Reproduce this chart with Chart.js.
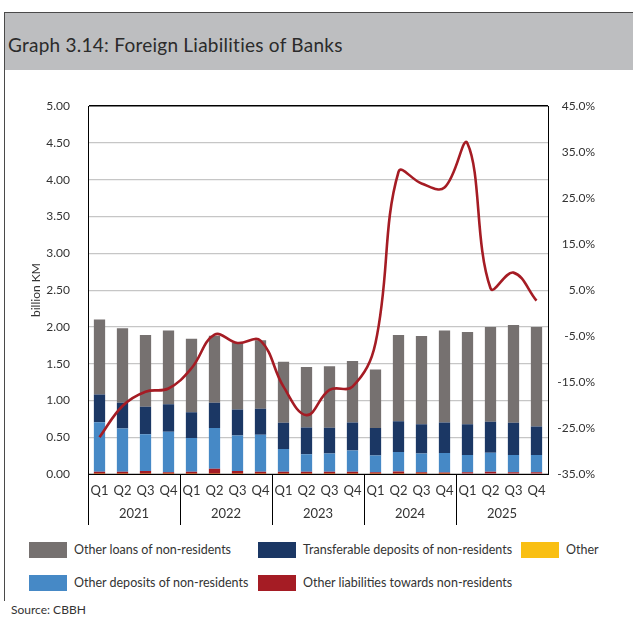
<!DOCTYPE html>
<html>
<head>
<meta charset="utf-8">
<script src="https://cdn.jsdelivr.net/npm/chart.js@4/dist/chart.umd.min.js"></script>
<style>
  body { margin: 0; background: #fff; font-family: Lato, "Open Sans", sans-serif; color: #333; }
  #page { position: relative; width: 633px; height: 617px; overflow: hidden; }
  #frame { position: absolute; left: 4px; top: 12px; width: 640px; height: 588px;
           border-left: 1px solid #4a4a4a; border-top: 1px solid #4a4a4a; }
  #banner { position: absolute; left: 5px; top: 13px; width: 640px; height: 57px; background: #bdbec0; }
  #title { position: absolute; left: 8px; top: 33px; font-size: 19px; letter-spacing: 0.25px; color: #2b2b2b; white-space: nowrap; }
  #chartBox { position: absolute; left: 0; top: 81px; }
  .swatch { position: absolute; width: 38px; height: 16px; }
  .label { position: absolute; font-size: 12.5px; line-height: 16px; white-space: nowrap; color: #333; }
  #source { position: absolute; left: 11px; top: 602px; font-size: 12px; color: #333; }
</style>
</head>
<body>
<div id="page">
  <div id="frame"></div>
  <div id="banner"></div>
  <div id="title">Graph 3.14: Foreign Liabilities of Banks</div>
  <div id="chartBox"><canvas id="chart" width="633" height="449"></canvas></div>
  <div id="legend"></div>
  <div id="source">Source: CBBH</div>
</div>
<script>
// quarters and years on the two-level x axis
const quarters = ['Q1', 'Q2', 'Q3', 'Q4', 'Q1', 'Q2', 'Q3', 'Q4', 'Q1', 'Q2', 'Q3', 'Q4',
                  'Q1', 'Q2', 'Q3', 'Q4', 'Q1', 'Q2', 'Q3', 'Q4'];
const years = ['2021', '2022', '2023', '2024', '2025'];

// stacked components, billion KM (bottom to top)
const otherItems = [0.005, 0.005, 0.005, 0.005, 0.005, 0.005, 0.005, 0.005, 0.005, 0.005,
                    0.005, 0.005, 0.005, 0.005, 0.005, 0.005, 0.008, 0.008, 0.008, 0.008];
const otherLiabilities = [0.025, 0.025, 0.035, 0.020, 0.025, 0.065, 0.035, 0.025, 0.025, 0.025,
                          0.025, 0.025, 0.020, 0.030, 0.020, 0.015, 0.017, 0.022, 0.017, 0.017];
const otherDeposits = [0.675, 0.590, 0.502, 0.549, 0.460, 0.554, 0.484, 0.503, 0.309, 0.237,
                       0.250, 0.290, 0.228, 0.263, 0.255, 0.265, 0.233, 0.259, 0.233, 0.233];
const transferableDeposits = [0.375, 0.347, 0.371, 0.375, 0.350, 0.343, 0.353, 0.353, 0.357, 0.366,
                              0.348, 0.380, 0.371, 0.420, 0.398, 0.415, 0.420, 0.420, 0.438, 0.388];
const otherLoans = [1.020, 1.013, 0.977, 1.001, 1.000, 0.913, 0.908, 0.931, 0.831, 0.822,
                    0.836, 0.836, 0.795, 1.171, 1.197, 1.252, 1.252, 1.288, 1.328, 1.354];

// annual growth rate of total foreign liabilities, % (right axis)
const growthRate = [-27.0, -20.2, -17.1, -16.4, -12.0, -4.7, -6.5, -6.0, -16.0, -22.2,
                    -16.7, -16.0, -6.5, 30.7, 28.2, 27.3, 36.9, 5.4, 8.8, 2.7];

const COLORS = {
  loans: '#767170',
  transferable: '#1b3764',
  other: '#f9bf13',
  deposits: '#4689c6',
  liabilities: '#a51c24'
};

// legend, laid out in two rows under the chart
const legendItems = [
  { text: 'Other loans of non-residents', color: COLORS.loans, x: 29, y: 542 },
  { text: 'Transferable deposits of non-residents', color: COLORS.transferable, x: 258, y: 542 },
  { text: 'Other', color: COLORS.other, x: 521, y: 542 },
  { text: 'Other deposits of non-residents', color: COLORS.deposits, x: 29, y: 575 },
  { text: 'Other liabilities towards non-residents', color: COLORS.liabilities, x: 258, y: 575 }
];
const legendEl = document.getElementById('legend');
legendItems.forEach(item => {
  const sw = document.createElement('div');
  sw.className = 'swatch';
  sw.style.left = item.x + 'px';
  sw.style.top = item.y + 'px';
  sw.style.background = item.color;
  legendEl.appendChild(sw);
  const lb = document.createElement('div');
  lb.className = 'label';
  lb.style.left = (item.x + 45) + 'px';
  lb.style.top = item.y + 'px';
  lb.textContent = item.text;
  legendEl.appendChild(lb);
});

const tickFont = { family: 'Lato, "Open Sans", sans-serif', size: 12 };
const tickColor = '#333';

const barDefaults = { type: 'bar', yAxisID: 'y', stack: 'total', order: 1,
                      categoryPercentage: 1, barPercentage: 0.49 };

new Chart(document.getElementById('chart'), {
  data: {
    labels: quarters,
    datasets: [
      { label: 'Growth', type: 'line', yAxisID: 'y1', order: 0, data: growthRate,
        borderColor: COLORS.liabilities, borderWidth: 2.6, pointRadius: 0, tension: 0.4, fill: false },
      { ...barDefaults, label: 'Other', data: otherItems, backgroundColor: COLORS.other },
      { ...barDefaults, label: 'Other liabilities towards non-residents', data: otherLiabilities, backgroundColor: COLORS.liabilities },
      { ...barDefaults, label: 'Other deposits of non-residents', data: otherDeposits, backgroundColor: COLORS.deposits },
      { ...barDefaults, label: 'Transferable deposits of non-residents', data: transferableDeposits, backgroundColor: COLORS.transferable },
      { ...barDefaults, label: 'Other loans of non-residents', data: otherLoans, backgroundColor: COLORS.loans }
    ]
  },
  options: {
    responsive: false,
    animation: false,
    layout: { padding: { left: 26, right: 38, top: 16, bottom: 2 } },
    plugins: { legend: { display: false }, tooltip: { enabled: false } },
    scales: {
      x: {
        type: 'category',
        stacked: true,
        offset: true,
        weight: 0,
        afterFit: s => { s.height = 24; },
        border: { display: true, color: '#000', width: 1 },
        // long ticks only at year boundaries act as group separators
        grid: {
          display: true, drawOnChartArea: false, drawTicks: true, tickLength: 51, offset: true,
          color: ctx => (ctx.index % 4 === 0 ? '#000' : 'rgba(0,0,0,0)')
        },
        ticks: { font: { ...tickFont, size: 13 }, color: tickColor, padding: -42, maxRotation: 0, autoSkip: false }
      },
      x2: {
        type: 'category',
        position: 'bottom',
        labels: years,
        offset: true,
        weight: 1,
        afterFit: s => { s.height = 30; },
        border: { display: false },
        grid: { display: false, drawTicks: false },
        ticks: { font: { ...tickFont, size: 13 }, color: tickColor, padding: 8, maxRotation: 0 }
      },
      y: {
        position: 'left',
        stacked: true,
        min: 0,
        max: 5,
        afterFit: s => { s.width = 62; },
        border: { display: true, color: '#000', width: 1 },
        grid: {
          drawTicks: false,
          color: ctx => (ctx.tick.value === 5 ? '#000' : '#c6c6c6'),
          lineWidth: ctx => (ctx.tick.value === 5 ? 1.5 : 1.2)
        },
        ticks: { stepSize: 0.5, padding: 18, font: tickFont, color: tickColor,
                 callback: v => v.toFixed(2) },
        title: { display: true, text: 'billion KM', font: tickFont, color: tickColor, padding: { top: 3, bottom: 0 } }
      },
      y1: {
        position: 'right',
        min: -35,
        max: 45,
        afterFit: s => { s.width = 47; },
        border: { display: true, color: '#000', width: 1 },
        grid: { display: false, drawTicks: false },
        ticks: { stepSize: 10, crossAlign: 'far', font: tickFont, color: tickColor,
                 callback: v => v.toFixed(1) + '%' }
      }
    }
  }
});
</script>
</body>
</html>
